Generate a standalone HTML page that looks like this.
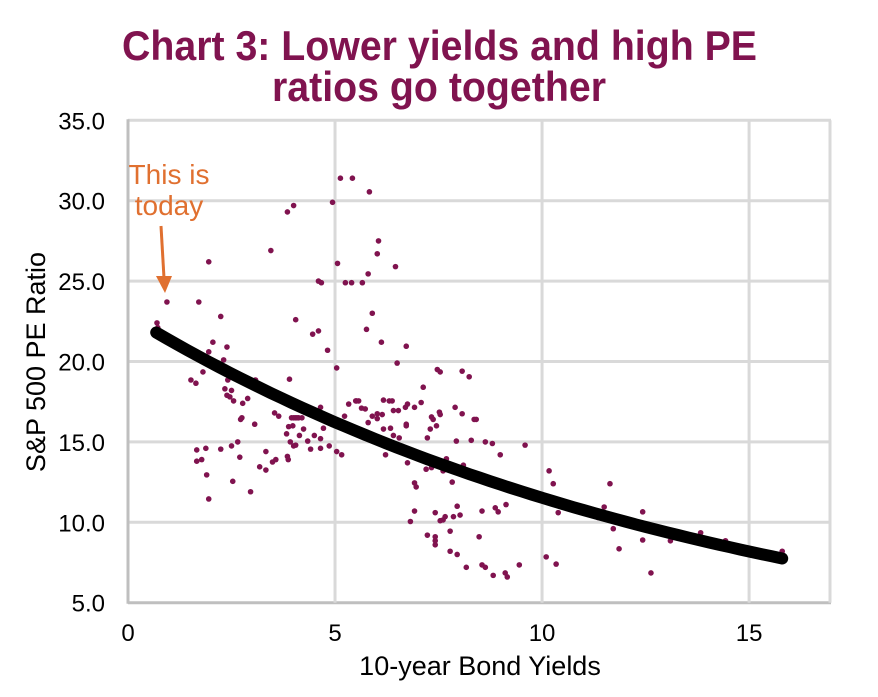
<!DOCTYPE html>
<html><head><meta charset="utf-8"><style>
body{margin:0;background:#fff;}
svg text{font-family:"Liberation Sans",Arial,sans-serif;}
</style></head><body>
<svg id="chart" width="878" height="692" viewBox="0 0 878 692" xmlns="http://www.w3.org/2000/svg">
<text x="122" y="60" textLength="635" lengthAdjust="spacingAndGlyphs" font-size="42" font-weight="bold" fill="#80134F">Chart 3: Lower yields and high PE</text>
<text x="272" y="101" textLength="334" lengthAdjust="spacingAndGlyphs" font-size="42" font-weight="bold" fill="#80134F">ratios go together</text>
<g id="grid"></g>
<g id="ticks"></g>
<g id="points"></g>
<path id="trend" fill="none" stroke="#000" stroke-width="12" stroke-linecap="round"/>
<text transform="translate(45,362) rotate(-90)" text-anchor="middle" font-size="27" fill="#000">S&amp;P 500 PE Ratio</text>
<text x="480" y="675" text-anchor="middle" font-size="27" fill="#000">10-year Bond Yields</text>
<text x="169" y="184" text-anchor="middle" font-size="28" fill="#E07030">This is</text>
<text x="169" y="215" text-anchor="middle" font-size="28" fill="#E07030">today</text>
<line x1="161" y1="226" x2="164" y2="278" stroke="#E07030" stroke-width="3"/>
<polygon points="156,276 172,276 165,293" fill="#E07030"/>
</svg>
<script>
const xTicks=[0,5,10,15];
const yTicks=[5,10,15,20,25,30,35];
const trendA=22.84, trendK=0.0684, trendStart=0.68, trendEnd=15.8;
const xs=[5.13,5.42,4.0,3.85,4.94,3.45,1.95,5.06,4.6,4.67,5.25,5.4,0.94,1.71,2.24,4.05,0.7,0.72,4.46,4.6,4.82,2.05,1.95,2.39,2.31,5.04,1.81,1.52,1.64,3.08,2.41,2.34,2.5,2.39,2.46,2.55,2.77,2.89,2.75,2.72,3.06,3.54,3.64,3.9,3.95,4.0,4.04,4.08,4.12,4.2,3.83,3.88,3.98,4.14,4.24,4.34,4.5,4.65,4.86,4.72,4.65,5.23,5.33,5.5,3.92,4.0,4.05,3.85,3.87,4.41,4.65,5.04,5.16,1.66,1.88,2.24,2.5,2.65,1.66,1.78,2.7,3.33,3.18,3.33,3.49,3.57,1.9,2.53,2.96,1.95,
5.83,6.05,6.02,6.46,5.66,5.8,5.9,5.76,6.12,6.72,6.5,7.47,7.54,8.07,8.24,7.13,5.52,5.57,5.64,5.73,5.9,6.02,6.14,6.02,5.8,6.17,6.31,6.38,6.41,6.53,6.7,6.75,6.92,7.08,6.72,6.72,6.17,6.34,6.41,6.55,7.33,7.37,7.52,7.54,7.45,7.3,7.23,7.9,8.07,8.36,8.41,7.93,8.29,8.63,8.8,8.99,9.59,6.22,6.75,7.2,7.33,7.61,7.69,8.1,7.83,6.92,6.96,10.17,10.27,10.39,6.92,6.82,7.42,7.95,8.02,7.86,7.66,7.61,7.54,8.55,8.87,8.94,9.13,7.23,7.42,7.42,7.42,7.78,8.48,7.78,7.95,8.17,8.55,8.63,8.82,9.11,9.16,9.45,10.1,10.34,
11.64,11.5,11.72,11.86,12.43,12.43,12.63,13.1,13.83,14.43,15.8,11.35];
const ys=[31.4,31.4,29.7,29.3,29.9,26.9,26.2,26.1,25.0,24.9,24.9,24.9,23.7,23.7,22.8,22.6,22.4,22.1,21.7,21.9,20.7,21.2,20.6,20.9,20.1,19.6,19.35,18.85,18.65,18.85,18.85,18.3,18.2,17.9,17.8,17.55,17.4,17.7,16.5,16.4,16.1,16.8,16.6,18.9,16.5,16.5,16.5,16.5,16.5,16.5,15.5,15.95,16.0,15.4,15.8,15.05,15.4,15.2,14.75,15.85,17.15,16.6,17.35,17.55,15.0,14.75,14.8,14.1,13.9,14.55,14.6,14.4,14.2,14.5,14.6,14.55,14.75,15.0,13.8,13.9,14.05,14.4,13.45,13.25,13.75,13.9,12.95,12.55,11.9,11.45,
30.55,27.5,26.7,25.9,24.9,25.45,23.0,22.0,21.2,20.95,19.9,19.5,19.35,19.4,19.05,18.4,17.55,17.55,17.1,17.05,16.6,16.75,16.7,16.45,16.2,17.6,17.55,17.55,16.95,16.95,17.15,17.35,17.15,17.45,16.1,16.0,15.8,15.85,15.4,15.25,16.55,16.4,16.85,16.7,16.0,15.8,15.25,17.15,16.75,16.4,16.4,15.05,15.1,15.0,14.9,14.2,14.8,14.2,13.7,13.3,13.4,13.2,13.95,13.55,12.5,12.45,12.2,13.2,12.4,10.6,10.7,10.05,10.6,11.0,10.45,10.35,10.35,10.15,10.1,10.7,10.9,10.65,11.1,9.2,9.1,8.85,8.6,9.45,9.1,8.2,8.0,7.2,7.35,7.2,6.7,6.85,6.6,7.35,7.85,7.4,
12.4,10.95,9.6,8.35,10.65,8.9,6.85,8.85,9.35,8.85,8.2,10.3];
const NS='http://www.w3.org/2000/svg';
const X0=128,X1=829,XMAX=16.93,Y0=602.7,Y1=120.3,YMIN=5,YMAX=35;
function sx(v){return X0+(v/XMAX)*(X1-X0);}
function sy(v){return Y0-(v-YMIN)/(YMAX-YMIN)*(Y0-Y1);}
const grid=document.getElementById('grid'),ticks=document.getElementById('ticks'),pts=document.getElementById('points');
function mk(tag,attrs,parent){const e=document.createElementNS(NS,tag);for(const k in attrs)e.setAttribute(k,attrs[k]);parent.appendChild(e);return e;}
yTicks.forEach(v=>{
  const l=mk('line',{x1:X0,x2:X1+2,y1:sy(v),y2:sy(v),stroke:v===YMIN?'#bfbfbf':'#d9d9d9','stroke-width':3},grid);
  
  
  const t=mk('text',{x:105,y:sy(v)+9,'text-anchor':'end','font-size':24,fill:'#000'},ticks);
  t.textContent=v.toFixed(1);
  
  
});
xTicks.forEach(v=>{
  if(v>0){const l=mk('line',{x1:sx(v),x2:sx(v),y1:Y1,y2:Y0,stroke:'#d9d9d9','stroke-width':3},grid);
  
  }
  const t=mk('text',{x:sx(v),y:641,'text-anchor':'middle','font-size':24,fill:'#000'},ticks);
  t.textContent=v;
  
  
});
const rl=mk('line',{x1:X1+1,x2:X1+1,y1:Y1,y2:Y0,stroke:'#d9d9d9','stroke-width':3},grid);


const ax=mk('line',{x1:X0,x2:X0,y1:Y1-1,y2:Y0+1,stroke:'#bfbfbf','stroke-width':3},grid);


xs.forEach((v,i)=>{
  const c=mk('circle',{cx:sx(v),cy:sy(ys[i]),r:2.8,fill:'#80134F'},pts);
  
  
});
let d='';
for(let i=0;i<=60;i++){const x=trendStart+(trendEnd-trendStart)*i/60;const y=trendA*Math.exp(-trendK*x);d+=(i?'L':'M')+sx(x).toFixed(1)+','+sy(y).toFixed(1);}
document.getElementById('trend').setAttribute('d',d);
</script>
</body></html>
